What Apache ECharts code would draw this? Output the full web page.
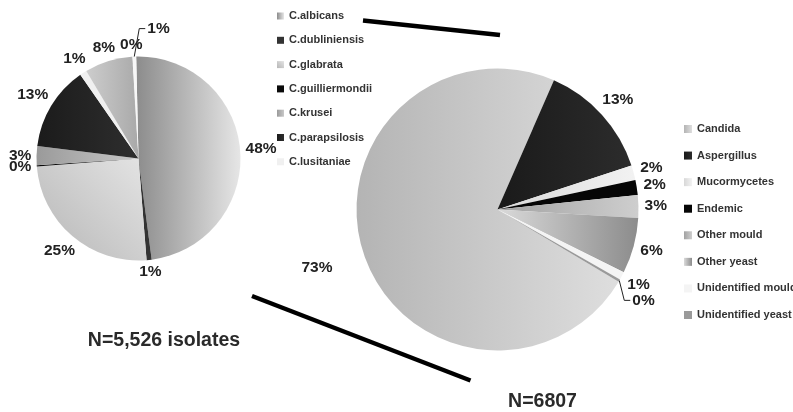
<!DOCTYPE html>
<html><head><meta charset="utf-8">
<script src="https://cdn.jsdelivr.net/npm/echarts@6/dist/echarts.min.js"></script>
<style>html,body{margin:0;padding:0;background:#fff}#c{width:793px;height:412px}</style>
</head><body><div id="c"></div>
<script>
// ---- data ----
const candidaNames = ['C.albicans','C.dubliniensis','C.glabrata','C.guilliermondii','C.krusei','C.parapsilosis','C.lusitaniae','C.tropicalis','C.famata','Other Candida'];
const candidaValues = [48.3, 0.8, 25.0, 0.2, 3.0, 13.4, 1.1, 7.5, 0.1, 0.6];
const candidaLegend = candidaNames.slice(0, 7);
const fungiNames = ['Candida','Aspergillus','Mucormycetes','Endemic','Other mould','Other yeast','Unidentified mould','Unidentified yeast'];
const fungiValues = [73.0, 13.4, 1.7, 1.7, 2.6, 6.4, 0.9, 0.3];
const leftTitle = 'N=5,526 isolates';
const rightTitle = 'N=6807';

// ---- style ----
const FF = '"Liberation Sans", Arial, Helvetica, sans-serif';
const LABEL_FONT = 15.5;
// extra radial distance for individual labels (style only)
const labelExtraGap = {Candida: 26};
function lg(c1, c2, x2, y2, y1) {
  return new echarts.graphic.LinearGradient(0, y1 || 0, x2 == null ? 1 : x2, y2 || 0,
    [{offset: 0, color: c1}, {offset: 1, color: c2}]);
}
const candidaColors = [
  lg('#8c8c8c', '#e6e6e6'), '#333333', lg('#b6b6b6', '#e4e4e4', 1, 0, 1), '#0a0a0a',
  lg('#9a9a9a', '#c8c8c8'), lg('#1b1b1b', '#2e2e2e'), '#f0f0f0', lg('#cdcdcd', '#a9a9a9'),
  '#888888', '#f7f7f7'
];
const fungiColors = [
  lg('#b4b4b4', '#dedede'), lg('#1a1a1a', '#2c2c2c'), lg('#d8d8d8', '#f2f2f2'), '#060606',
  lg('#a2a2a2', '#cecece'), lg('#dadada', '#8c8c8c'), '#f4f4f4', '#9a9a9a'
];

const leftPie = {center: [138.5, 158.5], radius: 102, startAngle: 91.3};
const rightPie = {center: [497.5, 209.5], radius: 141, startAngle: -30.8};

// ---- label placement (outside end, centred on slice direction; leader when crowded) ----
const ctx = document.createElement('canvas').getContext('2d');
ctx.font = 'bold ' + LABEL_FONT + 'px ' + FF;
function layoutPieLabels(names, values, pie, gap) {
  const total = values.reduce((a, b) => a + b, 0);
  const theta0 = 90 - pie.startAngle;
  const boxH = LABEL_FONT * 0.8;
  const hitH = LABEL_FONT * 0.72;
  const [cx, cy] = pie.center, R = pie.radius;
  let cum = 0;
  const placed = [];
  const hitList = (x, y, w) => placed.filter(p => Math.abs(p.x - x) < (p.w + w) / 2 && Math.abs(p.y - y) < hitH);
  return values.map((v, i) => {
    const th = (theta0 + 360 * (cum + v / 2) / total) * Math.PI / 180;
    cum += v;
    const dx = Math.sin(th), dy = -Math.cos(th);
    const text = Math.round(v / total * 100) + '%';
    const w = ctx.measureText(text).width;
    const ext = Math.abs(dx) * w / 2 + Math.abs(dy) * boxH / 2 + gap + (labelExtraGap[names[i]] || 0);
    let x = cx + dx * (R + ext);
    let y = cy + dy * (R + ext);
    const ax = cx + dx * R, ay = cy + dy * R;
    let leader = null;
    const hits = hitList(x, y, w);
    if (hits.length) {
      const side = Math.abs(dx) < 0.2 ? (ax >= hits[0].x ? 1 : -1) : (dx > 0 ? 1 : -1);
      const dir = dy < 0 ? -1 : 1;
      let guard = 0;
      while (hitList(x, y, w).length && guard++ < 80) y += dir;
      y += dir * boxH * 0.35;
      x = ax + side * (13 + w / 2);
      leader = [[ax, ay], [ax + side * 5, y], [x - side * (w / 2 + 2), y]];
    }
    placed.push({x, y, w});
    return {x, y, text, leader};
  });
}
const leftLabels = layoutPieLabels(candidaNames, candidaValues, leftPie, 5);
const rightLabels = layoutPieLabels(fungiNames, fungiValues, rightPie, 6);

function pieSeries(names, values, colors, pie, labels) {
  return {
    type: 'pie',
    center: pie.center,
    radius: pie.radius,
    startAngle: pie.startAngle,
    clockwise: true,
    avoidLabelOverlap: false,
    silent: true,
    itemStyle: {borderWidth: 0},
    emphasis: {disabled: true},
    label: {
      show: true, position: 'outside',
      formatter: p => labels[p.dataIndex].text,
      fontFamily: FF, fontSize: LABEL_FONT, fontWeight: 'bold', color: '#222'
    },
    labelLine: {show: false},
    labelLayout: p => ({x: labels[p.dataIndex].x, y: labels[p.dataIndex].y, align: 'center', verticalAlign: 'middle'}),
    data: names.map((n, i) => ({name: n, value: values[i], itemStyle: {color: colors[i]}}))
  };
}

function leaderGraphics(labels) {
  return labels.filter(l => l.leader).map(l => ({
    type: 'polyline', silent: true, z: 10,
    shape: {points: l.leader},
    style: {stroke: '#222', lineWidth: 1, fill: null}
  }));
}

const legendText = {fontFamily: FF, fontSize: 11, fontWeight: 'bold', color: '#333', lineHeight: 14};
const chart = echarts.init(document.getElementById('c'), null, {renderer: 'canvas'});
chart.setOption({
  animation: false,
  backgroundColor: '#fff',
  textStyle: {fontFamily: FF},
  legend: [
    {data: candidaLegend, orient: 'vertical', left: 277, top: 9, padding: 0,
     itemWidth: 7, itemHeight: 7, itemGap: 10.3, icon: 'rect', selectedMode: false, textStyle: legendText},
    {data: fungiNames, orient: 'vertical', left: 684, top: 122, padding: 0,
     itemWidth: 8, itemHeight: 8, itemGap: 12.57, icon: 'rect', selectedMode: false, textStyle: legendText}
  ],
  series: [
    pieSeries(candidaNames, candidaValues, candidaColors, leftPie, leftLabels),
    pieSeries(fungiNames, fungiValues, fungiColors, rightPie, rightLabels)
  ],
  graphic: [
    {type: 'line', shape: {x1: 363, y1: 20.5, x2: 500, y2: 35}, style: {stroke: '#000', lineWidth: 4.5}, silent: true},
    {type: 'line', shape: {x1: 252, y1: 296, x2: 470.5, y2: 380.5}, style: {stroke: '#000', lineWidth: 4.5}, silent: true},
    {type: 'text', style: {x: 164, y: 341, text: leftTitle, align: 'center', verticalAlign: 'middle',
      font: 'bold 19.5px ' + FF, fill: '#2a2a2a'}, silent: true},
    {type: 'text', style: {x: 542.5, y: 402, text: rightTitle, align: 'center', verticalAlign: 'middle',
      font: 'bold 19.5px ' + FF, fill: '#2a2a2a'}, silent: true}
  ].concat(leaderGraphics(leftLabels), leaderGraphics(rightLabels))
});
</script>
</body></html>
